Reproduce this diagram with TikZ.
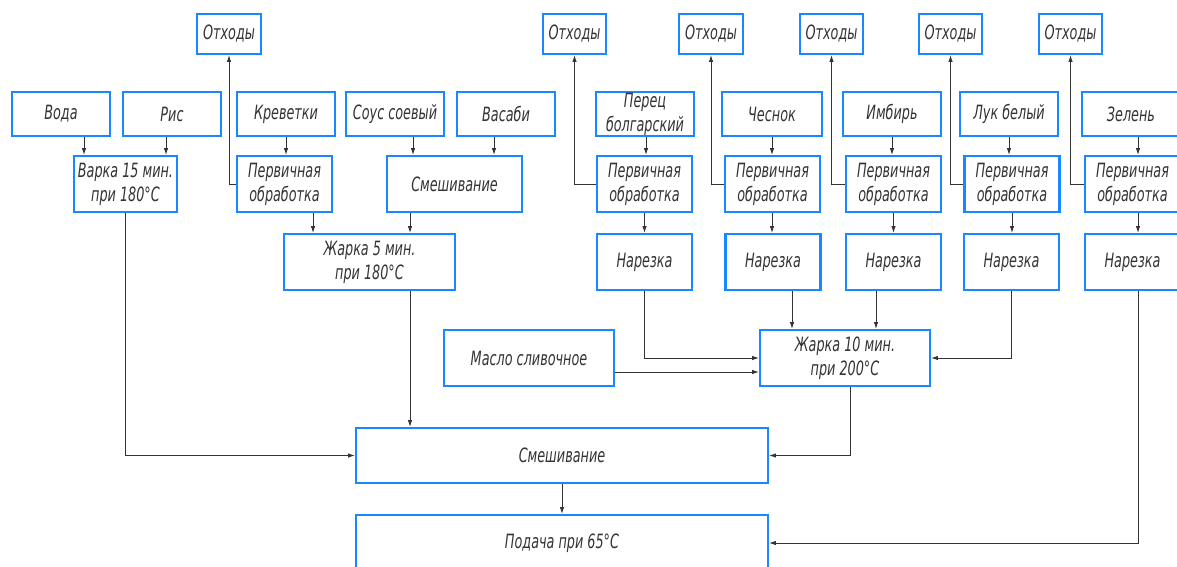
\documentclass[tikz,border=0pt]{standalone}
\usepackage{fontspec}
\setmainfont{DejaVu Sans}[FakeStretch=0.65]
\usetikzlibrary{arrows.meta,positioning}
\definecolor{boxblue}{RGB}{25,135,255}

\begin{document}
\begin{tikzpicture}[x=0.025cm, y=-0.025cm,
	block/.style 2 args={rectangle, draw=boxblue, line width=1.5pt,
		minimum width=#1*0.025cm, minimum height=#2*0.025cm, inner sep=0pt,
		align=center, text=black!80, font=\fontsize{14}{17}\selectfont\itshape},
	flow/.style={draw=black!80, line width=0.6pt},
	>={Latex[length=1.7mm,width=1.1mm]}]

\useasboundingbox (0,0) rectangle (1177,566);
\clip (0,0) rectangle (1177,566);

% waste
\node[block={64}{40}] at (229,34) (otx1) {Отходы};
\node[block={63}{40}] at (574.5,34) (otx2) {Отходы};
\node[block={64}{40}] at (711,34) (otx3) {Отходы};
\node[block={63}{40}] at (831.5,34) (otx4) {Отходы};
\node[block={63}{40}] at (950.5,34) (otx5) {Отходы};
\node[block={63}{40}] at (1070.5,34) (otx6) {Отходы};

% raw products
\node[block={98}{44}] at (61,114) (voda) {Вода};
\node[block={98}{44}] at (172,114) (ris) {Рис};
\node[block={98}{44}] at (286,114) (krev) {Креветки};
\node[block={98}{44}] at (395,114) (sous) {Соус соевый};
\node[block={98}{44}] at (506,114) (vasabi) {Васаби};
\node[block={98}{44}] at (645,114) (perec) {Перец\\болгарский};
\node[block={100}{44}] at (772,114) (chesnok) {Чеснок};
\node[block={98}{44}] at (892,114) (imbir) {Имбирь};
\node[block={98}{44}] at (1009,114) (luk) {Лук белый};
\node[block={98}{44}] at (1131,114) (zelen) {Зелень};

% processing
\node[block={103}{56}] at (125.5,184) (varka) {Варка 15 мин.\\при 180°C};
\node[block={95}{56}] at (284.5,184) (perv1) {Первичная\\обработка};
\node[block={135}{56}] at (454.5,184) (smesh1) {Смешивание};
\node[block={95}{56}] at (644.5,184) (perv2) {Первичная\\обработка};
\node[block={95}{56}] at (772.5,184) (perv3) {Первичная\\обработка};
\node[block={95}{56}] at (893.5,184) (perv4) {Первичная\\обработка};
\node[block={95}{56}] at (1012,184) (perv5) {Первичная\\обработка};
\node[block={95}{56}] at (1132.5,184) (perv6) {Первичная\\обработка};

\node[block={171}{56}] at (369.5,262) (zharka5) {Жарка 5 мин.\\при 180°C};
\node[block={95}{56}] at (644.5,262) (narez2) {Нарезка};
\node[block={95}{56}] at (773,262) (narez3) {Нарезка};
\node[block={95}{56}] at (893.5,262) (narez4) {Нарезка};
\node[block={95}{56}] at (1011.5,262) (narez5) {Нарезка};
\node[block={95}{56}] at (1132.5,262) (narez6) {Нарезка};

\node[block={170}{56}] at (529,358) (maslo) {Масло сливочное};
\node[block={170}{56}] at (845,358) (zharka10) {Жарка 10 мин.\\при 200°C};

\node[block={412}{55}] at (562,455.5) (smesh2) {Смешивание};
\node[block={412}{56}] at (562,543) (podacha) {Подача при 65°C};

% waste links
\draw[flow,->] (perv1.west) -| (otx1.south);
\draw[flow,->] (perv2.west) -| (otx2.south);
\draw[flow,->] (perv3.west) -| (otx3.south);
\draw[flow,->] (perv4.west) -| (otx4.south);
\draw[flow,->] (perv5.west) -| (otx5.south);
\draw[flow,->] (perv6.west) -| (otx6.south);

% downward links
\draw[flow,->] (voda.south -| 84,0) -- (varka.north -| 84,0);
\draw[flow,->] (ris.south -| 166,0) -- (varka.north -| 166,0);
\draw[flow,->] (krev.south) -- (perv1.north -| krev.south);
\draw[flow,->] (sous.south -| 413,0) -- (smesh1.north -| 413,0);
\draw[flow,->] (vasabi.south -| 494,0) -- (smesh1.north -| 494,0);
\draw[flow,->] (perv1.south -| 313,0) -- (zharka5.north -| 313,0);
\draw[flow,->] (smesh1.south -| 410,0) -- (zharka5.north -| 410,0);
\draw[flow,->] (zharka5.south -| 410,0) -- (smesh2.north -| 410,0);
\draw[flow,->] (perec.south -| 646,0) -- (perv2.north -| 646,0);
\draw[flow,->] (chesnok.south) -- (perv3.north -| chesnok.south);
\draw[flow,->] (imbir.south) -- (perv4.north -| imbir.south);
\draw[flow,->] (luk.south) -- (perv5.north -| luk.south);
\draw[flow,->] (zelen.south -| 1138,0) -- (perv6.north -| 1138,0);
\draw[flow,->] (perv2.south) -- (narez2.north);
\draw[flow,->] (perv3.south -| 772,0) -- (narez3.north -| 772,0);
\draw[flow,->] (perv4.south) -- (narez4.north);
\draw[flow,->] (perv5.south) -- (narez5.north -| perv5.south);
\draw[flow,->] (perv6.south -| 1138,0) -- (narez6.north -| 1138,0);
\draw[flow,->] (narez3.south -| 792,0) -- (zharka10.north -| 792,0);
\draw[flow,->] (narez4.south -| 876,0) -- (zharka10.north -| 876,0);
\draw[flow,->] (smesh2.south) -- (podacha.north);

% side links
\draw[flow,->] (narez2.south) |- (zharka10.west);
\draw[flow,->] (maslo.east |- 0,372) -- (zharka10.west |- 0,372);
\draw[flow,->] (narez5.south) |- (zharka10.east);
\draw[flow,->] (varka.south) |- (smesh2.west);
\draw[flow,->] (zharka10.south -| 850,0) |- (smesh2.east);
\draw[flow,->] (narez6.south -| 1138,0) |- (podacha.east);
\end{tikzpicture}
\end{document}
